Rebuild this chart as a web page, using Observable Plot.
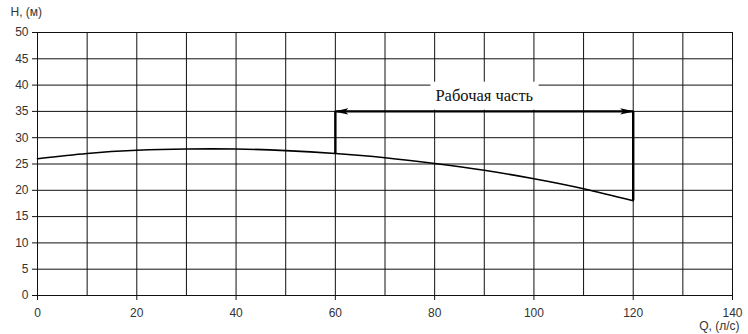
<!DOCTYPE html>
<html><head><meta charset="utf-8">
<script src="https://cdn.jsdelivr.net/npm/d3@7"></script>
<script src="https://cdn.jsdelivr.net/npm/@observablehq/plot@0.6"></script>
<style>body{margin:0;background:#fff}svg{display:block}</style>
</head><body><div id="chart"></div>
<script>
const qValues = [0, 10, 20, 30, 40, 50, 60, 70, 80, 90, 100, 110, 120];
const hValues = [26, 27.0, 27.6, 27.85, 27.85, 27.55, 27.0, 26.2, 25.1, 23.8, 22.2, 20.3, 18.0];
const xTicks = [0, 20, 40, 60, 80, 100, 120, 140];
const yTicks = [0, 5, 10, 15, 20, 25, 30, 35, 40, 45, 50];
const xGrid = [0, 10, 20, 30, 40, 50, 60, 70, 80, 90, 100, 110, 120, 130, 140];
const workStart = 60, workEnd = 120, workLevel = 35;
const workLabel = "Рабочая часть";
const xLabel = "Q, (л/с)";
const yLabel = "H, (м)";

const curve = qValues.map((q, i) => ({q, h: hValues[i]}));
const hAt = q => hValues[qValues.indexOf(q)];
const sides = [workStart, workEnd].map(q => ({q, h1: hAt(q), h2: workLevel}));

const plot = Plot.plot({
  width: 748, height: 334,
  marginLeft: 37, marginRight: 16, marginTop: 32, marginBottom: 39,
  style: {fontFamily: "'Liberation Sans', Arial, sans-serif", fontSize: "12px", color: "#333", background: "#fff"},
  x: {domain: [0, 140]},
  y: {domain: [0, 50]},
  marks: [
    Plot.ruleX(xGrid, {x: d => d, y1: 0, y2: 50, stroke: "#111", strokeWidth: 1}),
    Plot.ruleY(yTicks, {y: d => d, x1: 0, x2: 140, stroke: "#111", strokeWidth: 1}),
    Plot.axisX(xTicks, {tickSize: 5, tickPadding: 8, fill: "#333", stroke: "#111", label: null}),
    Plot.axisY(yTicks, {tickSize: 5, tickPadding: 4, fill: "#333", stroke: "#111", label: null}),
    Plot.line(curve, {x: "q", y: "h", curve: "natural", stroke: "#000", strokeWidth: 1.6}),
    Plot.ruleX(sides, {x: "q", y1: "h1", y2: "h2", stroke: "#000", strokeWidth: 2.4}),
    Plot.text([workLabel], {x: (workStart + workEnd) / 2, y: workLevel, dy: -16, text: d => d, fontFamily: "'Liberation Serif', 'DejaVu Serif', serif", fontSize: 16.5, fill: "#111"}),
    Plot.link([{a: workStart, b: workEnd, y: workLevel}], {x1: "a", x2: "b", y1: "y", y2: "y", stroke: "#000", strokeWidth: 2.4}),
    Plot.text([yLabel], {frameAnchor: "top-left", dx: -27, dy: -25, text: d => d, textAnchor: "start", fill: "#333", fontSize: 12}),
    Plot.text([xLabel], {frameAnchor: "bottom-right", dx: 7, dy: 34, text: d => d, textAnchor: "end", fill: "#333", fontSize: 12})
  ]
});
document.getElementById("chart").appendChild(plot);

// white box behind label and filled arrow heads
const svg = d3.select(plot);
svg.selectAll("text").each(function() {
  if (this.textContent === workLabel) {
    const bb = this.getBBox();
    const r = d3.select(this.parentNode).insert("rect", "text")
      .attr("x", bb.x - 5).attr("y", bb.y - 4).attr("width", bb.width + 10).attr("height", bb.height + 9)
      .attr("fill", "#fff");
    const t = this.getAttribute("transform");
    if (t) r.attr("transform", t);
    const gt = this.parentNode.getAttribute("transform");
  }
});
const defs = svg.append("defs");
defs.append("marker").attr("id", "ahead").attr("viewBox", "0 -4 14 8")
  .attr("refX", 13).attr("refY", 0).attr("markerWidth", 14).attr("markerHeight", 8)
  .attr("markerUnits", "userSpaceOnUse").attr("orient", "auto-start-reverse")
  .append("path").attr("d", "M0,-3.2L14,0L0,3.2L3,0Z").attr("fill", "#000");
svg.selectAll('g[aria-label="link"] path')
  .attr("marker-start", "url(#ahead)").attr("marker-end", "url(#ahead)");
</script></body></html>
